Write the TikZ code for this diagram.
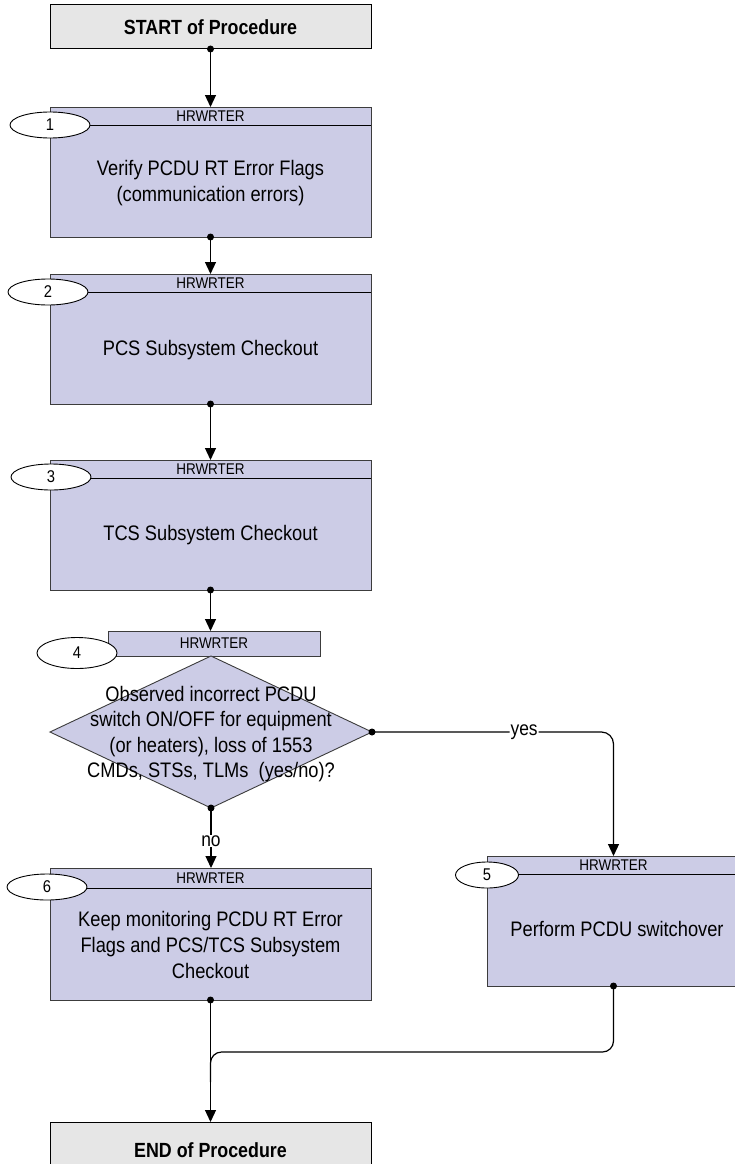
\documentclass[tikz,border=0pt]{standalone}
\usepackage{fontspec}
\setmainfont{Liberation Sans}[FakeStretch=0.87]
\usetikzlibrary{arrows.meta,shapes.geometric}
\definecolor{lav}{RGB}{204,204,230}
\definecolor{termgray}{RGB}{230,230,230}
\definecolor{edgegray}{RGB}{60,60,60}
\begin{document}
\begin{tikzpicture}[x=1pt,y=-1pt,
  every node/.style={inner sep=0pt, outer sep=0pt},
  box/.style={draw=edgegray, fill=lav, line width=0.9pt, rectangle},
  term/.style={draw=black, fill=termgray, line width=1pt, rectangle, font=\fontsize{20.5}{24}\selectfont\bfseries},
  oval/.style={draw=black, fill=white, ellipse, line width=0.9pt, minimum width=80pt, minimum height=26pt, font=\fontsize{17}{19}\selectfont},
  hdr/.style={font=\fontsize{15.5}{17}\selectfont},
  body/.style={font=\fontsize{21}{26}\selectfont, align=center},
  lbl/.style={font=\fontsize{20}{22}\selectfont, fill=white, inner sep=1pt},
  hline/.style={draw=black, line width=0.9pt},
  conn/.style={draw=black, line width=1.2pt},
  flow/.style={conn, -{Triangle[length=12pt,width=11pt]}},
  dot/.style={fill=black},
  ]
\useasboundingbox (0,0) rectangle (735,1164);
\fill[white] (0,0) rectangle (735,1164);

% START
\node[term, minimum width=321pt, minimum height=44pt] (start) at (210.5,27) {START of Procedure};

% Box 1
\node[box, minimum width=321pt, minimum height=130pt] (b1) at (210.5,172) {};
\draw[hline] ([yshift=-18pt]b1.north west) -- ([yshift=-18pt]b1.north east);
\node[hdr] (h1) at ([yshift=-9pt]b1.north) {HRWRTER};
\node[body] (t1) at (210.5,183) {Verify PCDU RT Error Flags\\(communication errors)};
\node[oval] (o1) at (50,125) {1};

% Box 2
\node[box, minimum width=321pt, minimum height=130pt] (b2) at (210.5,339) {};
\draw[hline] ([yshift=-18pt]b2.north west) -- ([yshift=-18pt]b2.north east);
\node[hdr] (h2) at ([yshift=-9pt]b2.north) {HRWRTER};
\node[body] (t2) at (210.5,350) {PCS Subsystem Checkout};
\node[oval] (o2) at (48,292) {2};

% Box 3
\node[box, minimum width=321pt, minimum height=130pt] (b3) at (210.5,525) {};
\draw[hline] ([yshift=-18pt]b3.north west) -- ([yshift=-18pt]b3.north east);
\node[hdr] (h3) at ([yshift=-9pt]b3.north) {HRWRTER};
\node[body] (t3) at (210.5,535) {TCS Subsystem Checkout};
\node[oval] (o3) at (51,477) {3};

% Decision 4
\node[box, minimum width=212pt, minimum height=25pt, hdr] (h4) at (214,643.5) {HRWRTER};
\node[diamond, draw=edgegray, fill=lav, line width=0.9pt, minimum width=322pt, minimum height=152pt] (d4) at (211,732) {};
\node[body, font=\fontsize{21}{25.5}\selectfont] (t4) at (211,734) {Observed incorrect PCDU\\switch ON/OFF for equipment\\(or heaters), loss of 1553\\CMDs, STSs, TLMs\ \ (yes/no)?};
\node[oval, minimum height=31pt] (o4) at (77,653) {4};

% Box 6
\node[box, minimum width=321pt, minimum height=132pt] (b6) at (210.5,934) {};
\draw[hline] ([yshift=-20pt]b6.north west) -- ([yshift=-20pt]b6.north east);
\node[hdr] (h6) at ([yshift=-10pt]b6.north) {HRWRTER};
\node[body] (t6) at (210.5,945) {Keep monitoring PCDU RT Error\\Flags and PCS/TCS Subsystem\\Checkout};
\node[oval] (o6) at (47,887) {6};

% Box 5
\node[box, minimum width=253pt, minimum height=130pt] (b5) at (613.5,921) {};
\draw[hline] ([yshift=-18pt]b5.north west) -- ([yshift=-18pt]b5.north east);
\node[hdr] (h5) at ([yshift=-9pt]b5.north) {HRWRTER};
\node[body] (t5) at (617,929) {Perform PCDU switchover};
\node[oval, minimum width=63pt] (o5) at (487,875) {5};

% END
\node[term, minimum width=321pt, minimum height=56pt] (end) at (210.5,1150) {};
\node[term, draw=none, fill=none] (endt) at (210.5,1150) {END of Procedure};

% Connectors
\fill[dot] (start.south) circle (3.5pt);
\draw[flow] (start.south) -- (b1.north);
\fill[dot] (b1.south) circle (3.5pt);
\draw[flow] (b1.south) -- (b2.north);
\fill[dot] (b2.south) circle (3.5pt);
\draw[flow] (b2.south) -- (b3.north);
\fill[dot] (b3.south) circle (3.5pt);
\draw[flow] (b3.south) -- (b3.south |- h4.north);

\fill[dot] (d4.south) circle (3.5pt);
\draw[flow] (d4.south) -- node[lbl, pos=0.55] (no) {no} (d4.south |- b6.north);

\fill[dot] (d4.east) circle (3.5pt);
\draw[flow, rounded corners=12pt] (d4.east) -- node[lbl, pos=0.63] (yes) {yes} (b5.north |- d4.east) -- (b5.north);

\fill[dot] (b6.south) circle (3.5pt);
\draw[flow] (b6.south) -- (end.north);

\coordinate (join) at (210.5,1052);
\fill[dot] (b5.south) circle (3.5pt);
\draw[conn, rounded corners=11pt] (b5.south) -- (b5.south |- join) -- (b6.south |- join) -- ([yshift=-30pt]b6.south |- join);
\end{tikzpicture}
\end{document}
